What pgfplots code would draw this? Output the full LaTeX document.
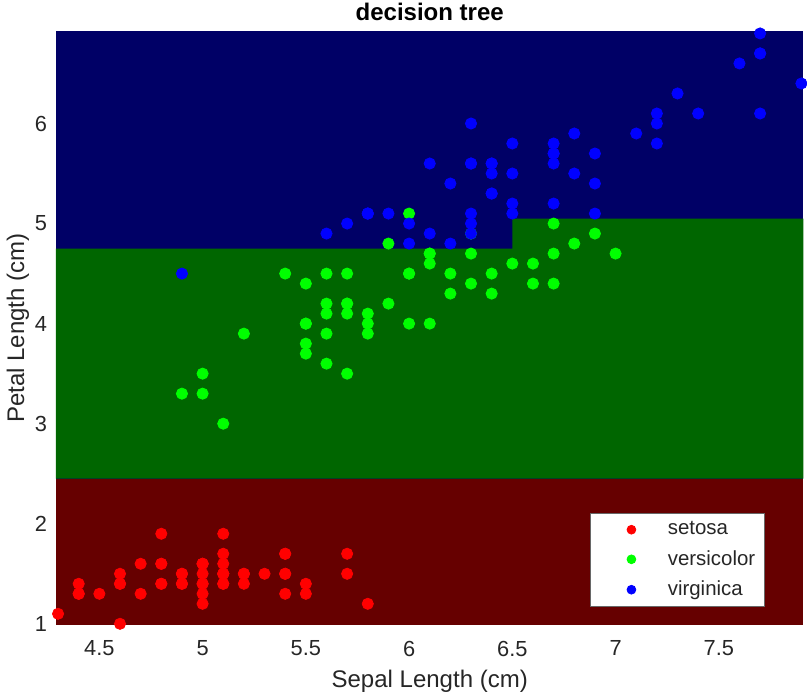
\documentclass[border=0pt]{standalone}
\usepackage{fontspec}
\setmainfont{Liberation Sans}
\usepackage{pgfplots}
\pgfplotsset{compat=1.18}
\definecolor{bgred}{RGB}{102,0,0}
\definecolor{bggreen}{RGB}{0,102,0}
\definecolor{bgblue}{RGB}{0,0,102}
\definecolor{axgray}{RGB}{38,38,38}
\begin{document}
\begin{tikzpicture}
\begin{axis}[
    width=373.5pt, height=296.5pt, scale only axis,
    xmin=4.29, xmax=7.91, ymin=0.99, ymax=6.92,
    xtick={4.5,5,5.5,6,6.5,7,7.5},
    ytick={1,2,3,4,5,6},
    axis line style={draw=none},
    major tick length=0pt,
    /pgf/number format/assume math mode=true,
    tick label style={font=\fontsize{10.9}{13}\selectfont, text=axgray},
    xticklabel style={yshift=-4.5pt},
    yticklabel style={xshift=-1pt},
    xlabel={Sepal Length (cm)},
    ylabel={Petal Length (cm)},
    label style={font=\fontsize{12}{14}\selectfont, text=axgray},
    ylabel style={yshift=-4pt},
    title={decision tree},
    title style={font=\bfseries\fontsize{12}{14}\selectfont, inner sep=1.5pt, yshift=-2.3pt},
    clip=false,
    legend cell align=left,
    legend style={at={(0.948,0.03)}, anchor=south east, draw=axgray!70, fill=white,
        font=\fontsize{10.2}{12}\selectfont, text=axgray,
        inner xsep=2.5pt, inner ysep=2pt, row sep=2.3pt},
    legend image code/.code={\path (0pt,0pt) (34pt,0pt); \draw[mark size=2.2pt] plot coordinates {(18pt,0pt)};},
]
% decision regions
\addplot[draw=none, fill=bgblue, forget plot] coordinates {(4.29,0.99) (7.91,0.99) (7.91,6.92) (4.29,6.92)} --cycle;
\addplot[draw=none, fill=bggreen, forget plot] coordinates {(4.29,2.45) (7.91,2.45) (7.91,5.05) (6.5,5.05) (6.5,4.75) (4.29,4.75)} --cycle;
\addplot[draw=none, fill=bgred, forget plot] coordinates {(4.29,0.99) (7.91,0.99) (7.91,2.45) (4.29,2.45)} --cycle;

\addplot[only marks, mark=*, mark size=2.8pt, color=red] coordinates {
(5.1,1.4) (4.9,1.4) (4.7,1.3) (4.6,1.5) (5.0,1.4) (5.4,1.7) (4.6,1.4) (5.0,1.5) (4.4,1.4) (4.9,1.5)
(5.4,1.5) (4.8,1.6) (4.8,1.4) (4.3,1.1) (5.8,1.2) (5.7,1.5) (5.4,1.3) (5.1,1.4) (5.7,1.7) (5.1,1.5)
(5.4,1.7) (5.1,1.5) (4.6,1.0) (5.1,1.7) (4.8,1.9) (5.0,1.6) (5.0,1.6) (5.2,1.5) (5.2,1.4) (4.7,1.6)
(4.8,1.6) (5.4,1.5) (5.2,1.5) (5.5,1.4) (4.9,1.5) (5.0,1.2) (5.5,1.3) (4.9,1.4) (4.4,1.3) (5.1,1.5)
(5.0,1.3) (4.5,1.3) (4.4,1.3) (5.0,1.6) (5.1,1.9) (4.8,1.4) (5.1,1.6) (4.6,1.4) (5.3,1.5) (5.0,1.4)
};
\addlegendentry{setosa}
\addplot[only marks, mark=*, mark size=2.8pt, color=green] coordinates {
(7.0,4.7) (6.4,4.5) (6.9,4.9) (5.5,4.0) (6.5,4.6) (5.7,4.5) (6.3,4.7) (4.9,3.3) (6.6,4.6) (5.2,3.9)
(5.0,3.5) (5.9,4.2) (6.0,4.0) (6.1,4.7) (5.6,3.6) (6.7,4.4) (5.6,4.5) (5.8,4.1) (6.2,4.5) (5.6,3.9)
(5.9,4.8) (6.1,4.0) (6.3,4.9) (6.1,4.7) (6.4,4.3) (6.6,4.4) (6.8,4.8) (6.7,5.0) (6.0,4.5) (5.7,3.5)
(5.5,3.8) (5.5,3.7) (5.8,3.9) (6.0,5.1) (5.4,4.5) (6.0,4.5) (6.7,4.7) (6.3,4.4) (5.6,4.1) (5.5,4.0)
(5.5,4.4) (6.1,4.6) (5.8,4.0) (5.0,3.3) (5.6,4.2) (5.7,4.2) (5.7,4.2) (6.2,4.3) (5.1,3.0) (5.7,4.1)
};
\addlegendentry{versicolor}
\addplot[only marks, mark=*, mark size=2.8pt, color=blue] coordinates {
(6.3,6.0) (5.8,5.1) (7.1,5.9) (6.3,5.6) (6.5,5.8) (7.6,6.6) (4.9,4.5) (7.3,6.3) (6.7,5.8) (7.2,6.1)
(6.5,5.1) (6.4,5.3) (6.8,5.5) (5.7,5.0) (5.8,5.1) (6.4,5.3) (6.5,5.5) (7.7,6.7) (7.7,6.9) (6.0,5.0)
(6.9,5.7) (5.6,4.9) (7.7,6.7) (6.3,4.9) (6.7,5.7) (7.2,6.0) (6.2,4.8) (6.1,4.9) (6.4,5.6) (7.2,5.8)
(7.4,6.1) (7.9,6.4) (6.4,5.6) (6.3,5.1) (6.1,5.6) (7.7,6.1) (6.3,5.6) (6.4,5.5) (6.0,4.8) (6.9,5.4)
(6.7,5.6) (6.9,5.1) (5.8,5.1) (6.8,5.9) (6.7,5.7) (6.7,5.2) (6.3,5.0) (6.5,5.2) (6.2,5.4) (5.9,5.1)
};
\addlegendentry{virginica}
\end{axis}
\end{tikzpicture}
\end{document}
